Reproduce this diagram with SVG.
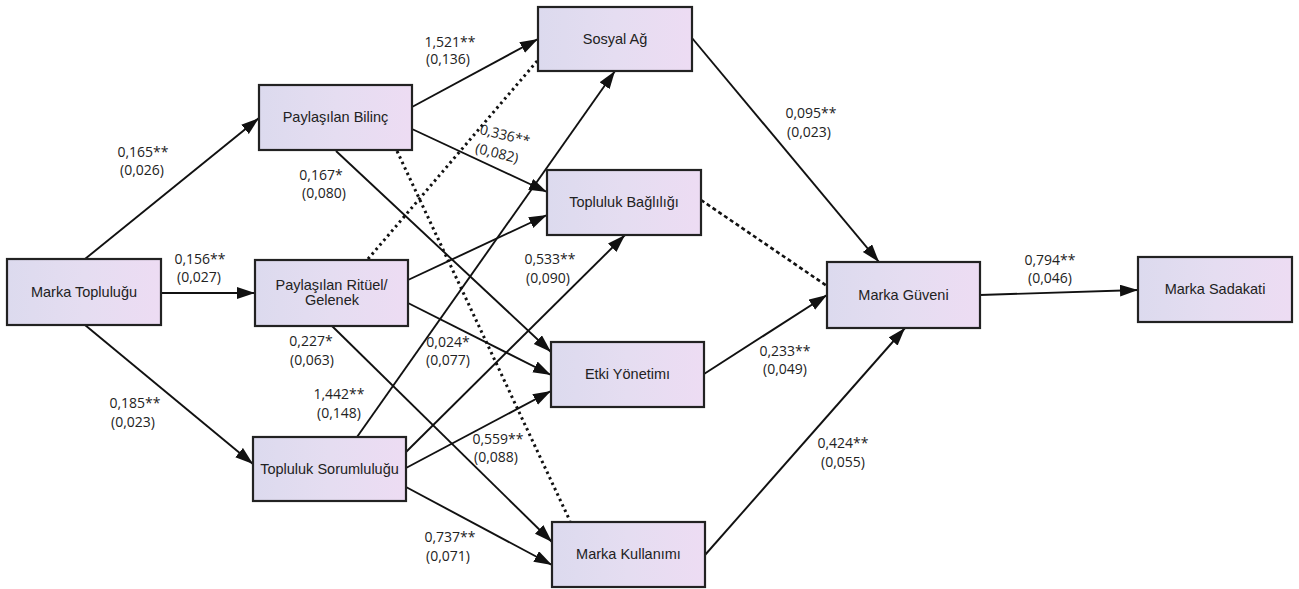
<svg xmlns="http://www.w3.org/2000/svg" width="1299" height="589" viewBox="0 0 1299 589">
<defs>
<linearGradient id="nodeFill" x1="0" y1="0" x2="1" y2="0">
<stop offset="0" stop-color="#dcdaee"/>
<stop offset="0.5" stop-color="#e5ddf1"/>
<stop offset="1" stop-color="#eddcf3"/>
</linearGradient>
<marker id="arr" markerUnits="userSpaceOnUse" markerWidth="19" markerHeight="13" refX="18" refY="6" orient="auto">
<path d="M0,0 L18,6 L0,12 z" fill="#111"/>
</marker>
<style>
.node rect{fill:url(#nodeFill);stroke:#222;stroke-width:2.2}
.node text{font-family:"Liberation Sans",Arial,sans-serif;font-size:14.5px;fill:#222;text-anchor:middle}
.edge{stroke:#111;stroke-width:1.9;fill:none}
.arrow{marker-end:url(#arr)}
.dotted{stroke-width:3;stroke-dasharray:2.5 3.5}
.dashed{stroke-width:2.6;stroke-dasharray:4 3}
.lbl{font-family:"Open Sans","Noto Sans",sans-serif;font-size:14px;fill:#222;text-anchor:middle}
</style>
</defs>
<rect x="0" y="0" width="1299" height="589" fill="#ffffff"/>
<g id="connectors">
<line class="edge arrow" x1="85" y1="259" x2="259" y2="118"/>
<line class="edge arrow" x1="161" y1="293" x2="255" y2="293"/>
<line class="edge arrow" x1="85" y1="325" x2="253" y2="464"/>
<line class="edge arrow" x1="412" y1="107" x2="538" y2="39"/>
<line class="edge arrow" x1="412" y1="129" x2="547" y2="192"/>
<line class="edge arrow" x1="336" y1="151" x2="551" y2="352"/>
<line class="edge dotted" x1="397" y1="151" x2="570" y2="521"/>
<line class="edge dotted" x1="368" y1="259" x2="538" y2="60"/>
<line class="edge arrow" x1="408" y1="280" x2="547" y2="215"/>
<line class="edge arrow" x1="408" y1="303" x2="551" y2="375"/>
<line class="edge arrow" x1="332" y1="326" x2="552" y2="542"/>
<line class="edge arrow" x1="357" y1="437" x2="615" y2="71"/>
<line class="edge arrow" x1="406" y1="452" x2="625" y2="235"/>
<line class="edge arrow" x1="406" y1="468" x2="551" y2="391"/>
<line class="edge arrow" x1="406" y1="487" x2="552" y2="565"/>
<line class="edge arrow" x1="692" y1="38" x2="879" y2="262"/>
<line class="edge dashed" x1="701" y1="200" x2="827" y2="286"/>
<line class="edge arrow" x1="704" y1="374" x2="827" y2="295"/>
<line class="edge arrow" x1="705" y1="555" x2="905" y2="328"/>
<line class="edge arrow" x1="980" y1="295" x2="1138" y2="290"/>
</g>
<g id="labels">
<text class="lbl" x="143" y="157">0,165**</text><text class="lbl" x="142" y="175">(0,026)</text>
<text class="lbl" x="200" y="264">0,156**</text><text class="lbl" x="199" y="282">(0,027)</text>
<text class="lbl" x="135" y="408">0,185**</text><text class="lbl" x="133" y="427">(0,023)</text>
<text class="lbl" x="450" y="47">1,521**</text><text class="lbl" x="448" y="64">(0,136)</text>
<text class="lbl" x="321" y="180">0,167*</text><text class="lbl" x="324" y="198">(0,080)</text>
<g transform="rotate(14 505 135)"><text class="lbl" x="505" y="140">0,336**</text></g>
<g transform="rotate(14 497 153)"><text class="lbl" x="497" y="158">(0,082)</text></g>
<text class="lbl" x="550" y="264">0,533**</text><text class="lbl" x="548" y="283">(0,090)</text>
<text class="lbl" x="448" y="347">0,024*</text><text class="lbl" x="448" y="365">(0,077)</text>
<text class="lbl" x="311" y="346">0,227*</text><text class="lbl" x="312" y="365">(0,063)</text>
<text class="lbl" x="339" y="399">1,442**</text><text class="lbl" x="339" y="418">(0,148)</text>
<text class="lbl" x="498" y="444">0,559**</text><text class="lbl" x="496" y="462">(0,088)</text>
<text class="lbl" x="450" y="542">0,737**</text><text class="lbl" x="448" y="561">(0,071)</text>
<text class="lbl" x="811" y="118">0,095**</text><text class="lbl" x="809" y="137">(0,023)</text>
<text class="lbl" x="785" y="356">0,233**</text><text class="lbl" x="785" y="374">(0,049)</text>
<text class="lbl" x="843" y="448">0,424**</text><text class="lbl" x="843" y="467">(0,055)</text>
<text class="lbl" x="1050" y="265">0,794**</text><text class="lbl" x="1050" y="283">(0,046)</text>
</g>
<g id="n-marka-toplulugu" class="node"><rect x="7" y="259" width="154" height="66"/><text x="84" y="297">Marka Topluluğu</text></g>
<g id="n-paylasilan-bilinc" class="node"><rect x="259" y="85" width="153" height="65"/><text x="335.5" y="122">Paylaşılan Bilinç</text></g>
<g id="n-paylasilan-rituel" class="node"><rect x="255" y="260" width="153" height="66"/><text x="331.5" y="290">Paylaşılan Ritüel/</text><text x="332" y="305">Gelenek</text></g>
<g id="n-topluluk-sorumlulugu" class="node"><rect x="253" y="437" width="153" height="64"/><text x="329.5" y="474">Topluluk Sorumluluğu</text></g>
<g id="n-sosyal-ag" class="node"><rect x="538" y="7" width="154" height="64"/><text x="615" y="44">Sosyal Ağ</text></g>
<g id="n-topluluk-bagliligi" class="node"><rect x="547" y="170" width="154" height="65"/><text x="624" y="207">Topluluk Bağlılığı</text></g>
<g id="n-etki-yonetimi" class="node"><rect x="551" y="342" width="153" height="65"/><text x="627.5" y="379">Etki Yönetimı</text></g>
<g id="n-marka-kullanimi" class="node"><rect x="552" y="522" width="153" height="65"/><text x="628.5" y="559">Marka Kullanımı</text></g>
<g id="n-marka-guveni" class="node"><rect x="827" y="262" width="153" height="66"/><text x="903.5" y="300">Marka Güveni</text></g>
<g id="n-marka-sadakati" class="node"><rect x="1138" y="257" width="154" height="65"/><text x="1215" y="294">Marka Sadakati</text></g>
</svg>
